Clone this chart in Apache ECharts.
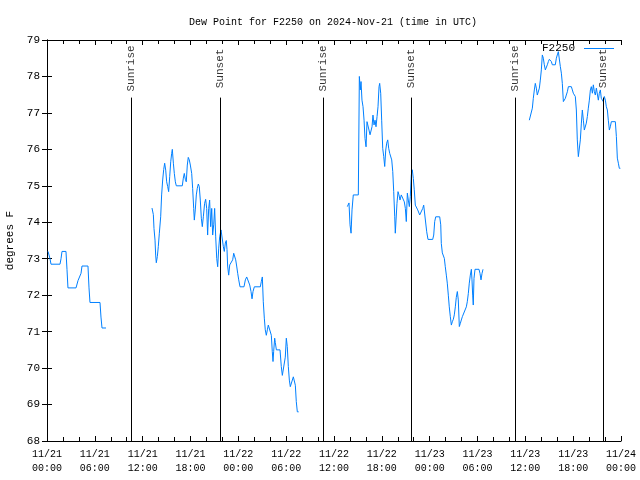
<!DOCTYPE html>
<html>
<head>
<meta charset="utf-8">
<script src="https://cdn.jsdelivr.net/npm/echarts@6/dist/echarts.min.js"></script>
<style>html,body{margin:0;padding:0;background:#fff}#c{width:640px;height:480px}</style>
</head>
<body>
<div id="c"></div>
<script>
// hours since 2024-11-21 00:00 UTC
const seg1Hours = [0.13,0.38,0.50,1.63,1.76,1.88,2.38,2.51,2.63,3.64,3.89,4.27,4.39,5.14,5.27,5.39,6.65,6.77,6.90,7.40];
const seg1Dew   = [73.2,73.0,72.85,72.85,73.0,73.2,73.2,72.7,72.2,72.2,72.4,72.6,72.8,72.8,72.2,71.8,71.8,71.4,71.1,71.1];

const seg2Hours = [13.17,13.34,13.42,13.55,13.63,13.71,13.84,13.96,14.09,14.26,14.38,14.51,14.64,14.76,14.89,15.01,15.14,15.26,15.39,15.52,15.64,15.72,15.85,15.97,16.10,16.22,16.97,17.10,17.22,17.35,17.47,17.60,17.72,17.85,17.98,18.15,18.27,18.40,18.48,18.60,18.73,18.85,18.98,19.10,19.23,19.36,19.48,19.61,19.77,19.90,20.03,20.15,20.28,20.40,20.53,20.66,20.78,20.91,21.03,21.16,21.29,21.41,21.54,21.66,
  21.83,22.04,22.12,22.24,22.37,22.49,22.58,22.66,22.79,22.92,23.08,23.29,23.42,23.54,23.67,23.79,23.92,24.05,24.21,24.71,24.88,25.05,25.30,25.43,25.59,25.72,25.84,26.01,26.76,26.88,27.01,27.13,27.26,27.38,27.51,27.64,27.76,28.01,28.14,28.26,28.35,28.43,28.56,28.64,28.77,29.23,29.39,29.52,29.77,29.89,30.02,30.14,30.27,30.40,30.52,30.77,30.90,31.02,31.15,31.27,31.40,31.57];
const seg2Dew   = [74.39,74.21,73.83,73.51,73.10,72.89,73.06,73.33,73.70,74.15,74.75,75.16,75.45,75.62,75.43,75.11,74.98,74.84,75.25,75.66,75.89,76.0,75.62,75.34,75.11,75.0,75.0,75.21,75.34,75.18,75.11,75.57,75.78,75.71,75.57,75.34,74.93,74.38,74.06,74.34,74.75,74.93,75.05,74.98,74.61,74.11,73.88,74.15,74.52,74.63,74.38,73.65,74.38,74.61,73.88,74.38,73.65,73.93,74.38,73.60,73.01,72.78,73.29,73.60,
  73.79,73.79,73.33,73.2,73.43,73.5,73.25,72.8,72.55,72.83,72.88,72.97,73.15,73.15,72.97,72.8,72.6,72.42,72.23,72.23,72.42,72.5,72.46,72.28,72.1,71.9,72.1,72.23,72.23,72.37,72.5,71.82,71.37,71.05,70.9,71.05,71.18,71.18,70.9,70.45,70.18,70.45,70.82,70.7,70.5,70.5,70.04,69.8,69.8,70.3,70.82,70.59,70.04,69.67,69.49,69.49,69.76,69.8,69.53,69.08,68.8,68.8];

const seg3Hours = [37.67,37.88,38.01,38.14,38.26,38.42,39.05,39.18,39.30,39.39,39.51,39.64,39.77,39.89,40.02,40.14,40.27,40.39,40.52,40.64,40.77,40.89,41.02,41.15,41.27,41.40,41.52,41.65,41.73,41.86,41.98,42.11,42.24,42.36,42.49,42.61,42.74,42.86,42.99,43.11,43.24,43.37,43.49,43.62,43.69,43.78,43.90,44.03,44.15,44.28,44.44,44.69,44.82,44.95,45.07,45.20,45.32,45.45,45.57,45.70,45.82,45.95,46.07,46.20,46.38,46.50,46.63,46.75,47.00,47.13,47.25,47.50,47.63,47.79,48.38,48.51,48.63,48.76,49.26,49.39,49.46,49.59,49.71,49.84,49.96,50.09,50.21,50.34,50.46,50.59,50.72,50.84,50.97,51.09,51.22,51.34,51.47,51.59,51.72,51.85,51.97,52.10,52.35,52.60,52.72,52.85,52.97,53.10,53.23,53.31,53.40,53.47,53.56,53.69,54.19,54.31,54.44,54.57,54.69];
const seg3Dew   = [74.43,74.53,73.93,73.7,74.34,74.75,74.75,78.0,77.63,77.86,77.35,77.17,76.8,76.3,76.07,76.76,76.72,76.53,76.4,76.35,76.62,76.94,76.67,76.8,76.62,76.9,77.17,77.72,77.81,77.54,76.8,76.03,75.8,75.53,75.98,76.17,76.26,76.03,75.89,75.85,75.71,75.39,74.84,74.15,73.7,74.06,74.52,74.84,74.75,74.61,74.75,74.7,74.56,74.38,74.02,74.8,74.61,74.43,74.7,75.3,75.44,75.2,74.89,74.47,74.43,74.34,74.38,74.2,74.2,74.38,74.47,74.47,73.74,73.53,73.53,73.65,74.02,74.15,74.15,73.93,73.42,73.16,73.16,73.01,72.78,72.55,72.33,72.0,71.68,71.41,71.18,71.27,71.34,71.46,71.68,71.94,72.1,71.87,71.14,71.23,71.32,71.41,71.43,71.68,71.82,72.05,72.33,72.55,72.71,72.42,71.98,71.73,72.46,72.71,72.71,72.6,72.42,72.6,72.71];

const seg4Hours = [60.50,60.75,60.88,61.00,61.13,61.25,61.38,61.50,61.63,61.76,61.88,62.01,62.13,62.26,62.38,62.51,62.63,62.76,62.89,63.01,63.14,63.26,63.39,63.51,63.64,63.76,63.89,64.01,64.14,64.27,64.39,64.52,64.64,64.77,64.89,65.02,65.14,65.27,65.40,65.52,65.65,65.77,65.90,66.02,66.15,66.27,66.40,66.52,66.65,66.77,66.90,67.03,67.15,67.28,67.40,67.53,67.65,67.78,67.90,68.03,68.16,68.28,68.41,68.53,68.66,68.78,68.91,69.03,69.16,69.28,69.41,69.53,69.66,69.78,69.91,70.04,70.16,70.29,70.41,70.54,70.66,70.79,71.29,71.42,71.54,71.67,71.79,71.92];
const seg4Dew   = [76.8,76.8,77.13,77.4,77.63,77.81,77.68,77.49,77.54,77.68,77.9,78.18,78.59,78.5,78.32,78.18,78.23,78.32,78.41,78.47,78.5,78.41,78.32,78.27,78.36,78.32,78.5,78.59,78.68,78.63,78.27,78.09,77.81,77.31,77.35,77.4,77.49,77.58,77.72,77.77,77.77,77.72,77.63,77.54,77.49,77.45,77.08,76.26,75.8,75.85,76.26,76.72,77.08,76.8,76.53,76.49,76.72,76.9,77.13,77.35,77.63,77.72,77.54,77.77,77.58,77.49,77.68,77.63,77.35,77.54,77.63,77.4,77.4,77.31,77.45,77.35,77.17,77.08,76.8,76.53,76.62,76.76,76.76,76.35,75.76,75.62,75.48,75.48];

const sunEventHours = [10.54,21.70,34.62,45.66,58.71,69.78];
const sunEventNames = ['Sunrise','Sunset','Sunrise','Sunset','Sunrise','Sunset'];

const xTickDates = ['11/21','11/21','11/21','11/21','11/22','11/22','11/22','11/22','11/23','11/23','11/23','11/23','11/24'];
const xTickTimes = ['00:00','06:00','12:00','18:00','00:00','06:00','12:00','18:00','00:00','06:00','12:00','18:00','00:00'];

const seriesName = 'F2250';
const titleText = 'Dew Point for F2250 on 2024-Nov-21 (time in UTC)';
const yName = 'degrees F';

const segs = [[seg1Hours,seg1Dew],[seg2Hours,seg2Dew],[seg3Hours,seg3Dew],[seg4Hours,seg4Dew]];
const lineData = [];
segs.forEach((s,i)=>{
  if(i>0) lineData.push([ (s[0][0]+lineData[lineData.length-1][0])/2, null ]);
  s[0].forEach((h,j)=>lineData.push([h, s[1][j]]));
});

const FONT = 'Liberation Mono';
const BLUE = '#0080ff';
const chart = echarts.init(document.getElementById('c'), null, {renderer:'canvas'});
const lineTop = 77.42;
chart.setOption({
  animation:false,
  backgroundColor:'#fff',
  title:{text:titleText,left:328,textAlign:'center',top:12,
    textStyle:{fontFamily:FONT,fontSize:10,fontWeight:'normal',color:'#000'}},
  legend:{show:true,data:[seriesName],left:542,top:43,orient:'horizontal',align:'right',
    itemWidth:30,itemHeight:12,itemGap:0,padding:0,
    textStyle:{fontFamily:FONT,fontSize:11,color:'#000',padding:[0,4,0,0]},
    itemStyle:{opacity:0},
    lineStyle:{color:BLUE,width:1,opacity:1}},
  grid:{left:47,right:19,top:40,bottom:39,containLabel:false,outerBoundsMode:'none'},
  xAxis:[{type:'value',min:0,max:72,interval:6,position:'bottom',
    axisLine:{lineStyle:{color:'#000',width:1}},
    axisTick:{inside:true,length:5,lineStyle:{color:'#000'}},
    minorTick:{show:true,splitNumber:3,length:4,lineStyle:{color:'#000'}},
    splitLine:{show:false},
    axisLabel:{color:'#000',fontFamily:FONT,fontSize:10,margin:6,lineHeight:14,
      formatter:v=>{const i=Math.round(v/6);return xTickDates[i]+'\n'+xTickTimes[i];}}},
   {type:'value',min:0,max:72,interval:6,position:'top',
    axisLine:{lineStyle:{color:'#000',width:1}},
    axisTick:{inside:true,length:5,lineStyle:{color:'#000'}},
    minorTick:{show:true,splitNumber:3,length:4,lineStyle:{color:'#000'}},
    splitLine:{show:false},axisLabel:{show:false}}],
  yAxis:[{type:'value',min:68,max:79,interval:1,position:'left',
    name:yName,nameLocation:'middle',nameGap:31,nameRotate:90,
    nameTextStyle:{fontFamily:FONT,fontSize:11,color:'#000'},
    axisLine:{show:true,lineStyle:{color:'#000',width:1}},
    axisTick:{show:true,inside:true,length:5,lineStyle:{color:'#000'}},
    splitLine:{show:false},
    axisLabel:{color:'#000',fontFamily:FONT,fontSize:11,margin:7}},
   {type:'value',min:68,max:79,interval:1,position:'right',
    axisLine:{show:true,lineStyle:{color:'#000',width:1}},
    axisTick:{show:true,inside:true,length:5,lineStyle:{color:'#000'}},
    splitLine:{show:false},axisLabel:{show:false}}],
  series:[
    {name:seriesName,type:'line',data:lineData,symbol:'none',connectNulls:false,
     lineStyle:{color:BLUE,width:1},itemStyle:{color:BLUE},z:3,
     markLine:{silent:true,symbol:['none','none'],animation:false,
       lineStyle:{color:'#000',width:1,type:'solid'},label:{show:false},
       data:sunEventHours.map(h=>[{coord:[h,68]},{coord:[h,lineTop]}])}},
    {name:'sunLabels',type:'scatter',data:sunEventHours.map((h,i)=>[h,78.22,sunEventNames[i]]),
     symbol:'circle',symbolSize:1,itemStyle:{color:'rgba(0,0,0,0)'},silent:true,
     label:{show:true,position:'inside',rotate:90,formatter:p=>p.data[2],
       fontFamily:FONT,fontSize:11,color:'#000'}}
  ]
});
</script>
</body>
</html>
